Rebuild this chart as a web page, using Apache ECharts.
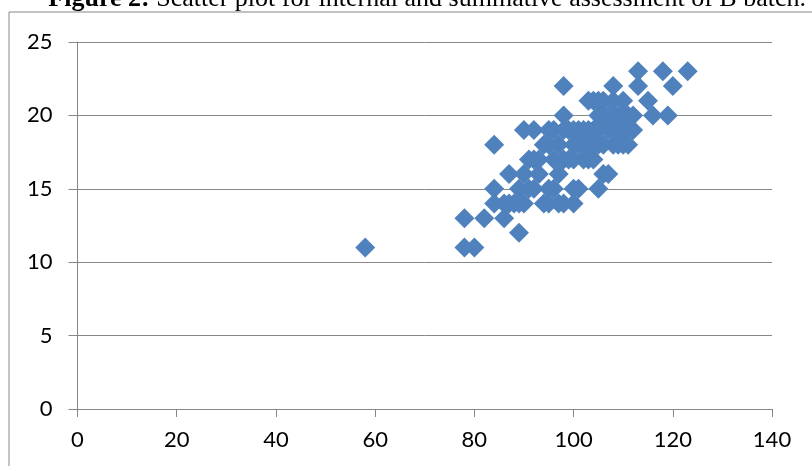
<!DOCTYPE html>
<html>
<head>
<meta charset="utf-8">
<script src="https://cdn.jsdelivr.net/npm/echarts@6/dist/echarts.min.js"></script>
<style>
  html, body { margin: 0; padding: 0; background: #fff; }
  #chart { width: 812px; height: 466px; }
</style>
</head>
<body>
<div id="chart"></div>
<script>
// summative marks (x) and internal marks (y), one entry per student
const summative = [
  58, 78, 78, 80, 82, 84, 84, 84, 86, 86,
  87, 87, 88, 89, 89, 89, 90, 90, 90, 91,
  91, 92, 92, 92, 93, 93, 94, 94, 95, 95,
  95, 95, 96, 96, 96, 97, 97, 97, 98, 98,
  98, 98, 98, 99, 99, 100, 100, 100, 100, 100,
  101, 101, 101, 102, 102, 102, 103, 103, 103, 103,
  104, 104, 104, 104, 105, 105, 105, 105, 105, 106,
  106, 106, 106, 107, 107, 107, 108, 108, 108, 108,
  108, 109, 109, 109, 110, 110, 110, 110, 111, 111,
  111, 112, 112, 113, 113, 115, 116, 118, 119, 120,
  123
];
const internal = [
  11, 13, 11, 11, 13, 18, 15, 14, 14, 13,
  16, 14, 14, 12, 15, 14, 19, 16, 14, 17,
  15, 19, 17, 15, 17, 16, 18, 14, 19, 18,
  15, 14, 19, 17, 15, 16, 14, 18, 22, 20,
  19, 17, 14, 19, 17, 19, 18, 17, 15, 14,
  19, 18, 15, 19, 18, 17, 21, 19, 18, 17,
  21, 19, 18, 17, 21, 20, 19, 18, 15, 21,
  20, 18, 16, 20, 19, 16, 22, 21, 20, 19,
  18, 20, 19, 18, 21, 20, 19, 18, 20, 19,
  18, 20, 19, 23, 22, 21, 20, 23, 20, 22,
  23
];
const xTicks = [0, 20, 40, 60, 80, 100, 120, 140];
const yTicks = [0, 5, 10, 15, 20, 25];

const points = summative.map((x, i) => [x, internal[i]]);

const axisColor = "#878787";
const labelStyle = { color: "#000", fontFamily: "Lato, sans-serif", fontSize: 22 };

const chart = echarts.init(document.getElementById("chart"));
chart.setOption({
  animation: false,
  graphic: [
    {
      type: "rect",
      shape: { x: 9, y: 12, width: 900, height: 600 },
      style: { fill: "none", stroke: axisColor, lineWidth: 1 },
    },
    {
      type: "text",
      x: 806,
      y: 12,
      style: {
        text: "{b|Figure 2:} Scatter plot for internal and summative assessment of B batch.",
        align: "right",
        verticalAlign: "bottom",
        fontFamily: "Liberation Serif, serif",
        fontSize: 26,
        fill: "#000",
        rich: { b: { fontWeight: "bold", fontFamily: "Liberation Serif, serif", fontSize: 26 } },
      },
    },
  ],
  grid: { left: 77.5, right: 40, top: 42, bottom: 57 },
  xAxis: {
    type: "value",
    min: xTicks[0],
    max: xTicks[xTicks.length - 1],
    interval: 20,
    axisLine: { show: true, onZero: false, lineStyle: { color: axisColor } },
    axisTick: { show: true, length: 8, lineStyle: { color: axisColor } },
    axisLabel: { ...labelStyle, margin: 20 },
    splitLine: { show: false },
  },
  yAxis: {
    type: "value",
    min: yTicks[0],
    max: yTicks[yTicks.length - 1],
    interval: 5,
    axisLine: { show: true, lineStyle: { color: axisColor } },
    axisTick: { show: true, length: 9, lineStyle: { color: axisColor } },
    axisLabel: { ...labelStyle, margin: 25 },
    splitLine: { show: true, lineStyle: { color: axisColor, width: 1 } },
  },
  series: [
    {
      type: "scatter",
      symbol: "diamond",
      symbolSize: 20,
      itemStyle: { color: "#4F81BD", opacity: 1 },
      data: points,
    },
  ],
});
</script>
</body>
</html>
